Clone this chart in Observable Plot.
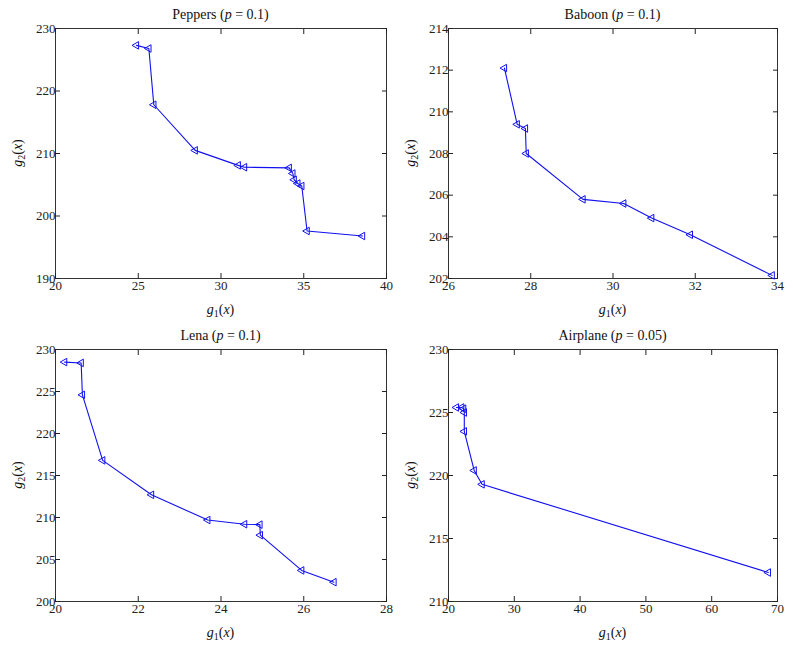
<!DOCTYPE html>
<html>
<head>
<meta charset="utf-8">
<script src="https://cdn.jsdelivr.net/npm/d3@7"></script>
<script src="https://cdn.jsdelivr.net/npm/@observablehq/plot@0.6"></script>
<style>
  html, body { margin: 0; padding: 0; background: #fff; }
  #root { position: relative; width: 793px; height: 648px; overflow: hidden; font-family: "Liberation Serif", "DejaVu Serif", serif; color: #111; }
  #root svg, #root svg text { font-family: "Liberation Serif", "DejaVu Serif", serif !important; }
  .panel { position: absolute; }
  .lab { position: absolute; white-space: nowrap; font-size: 14px; transform: translate(-50%, -50%); line-height: 1; }
  .lab sub { font-size: 10px; vertical-align: -3px; line-height: 0; }
  .rot { transform: translate(-50%, -50%) rotate(-90deg); }
</style>
</head>
<body>
<div id="root"></div>
<script>
// ---- Data ----
const pepG1 = [24.89, 25.64, 25.94, 28.44, 31.04, 31.42, 34.12, 34.34, 34.42, 34.64, 34.88, 35.20, 38.55];
const pepG2 = [227.3, 226.8, 217.8, 210.5, 208.1, 207.8, 207.7, 206.8, 205.8, 205.2, 204.8, 197.6, 196.8];

const babG1 = [27.36, 27.67, 27.87, 27.89, 29.27, 30.26, 30.94, 31.88, 33.87];
const babG2 = [212.1, 209.4, 209.2, 208.0, 205.8, 205.6, 204.9, 204.1, 202.15];

const lenG1 = [20.22, 20.62, 20.65, 21.14, 22.32, 23.68, 24.57, 24.94, 24.95, 25.95, 26.73];
const lenG2 = [228.5, 228.4, 224.6, 216.8, 212.7, 209.7, 209.2, 209.15, 207.9, 203.7, 202.3];

const airG1 = [21.2, 22.0, 22.3, 22.4, 22.4, 23.9, 25.1, 68.6];
const airG2 = [225.4, 225.4, 225.3, 225.0, 223.5, 220.4, 219.3, 212.3];

const pepXTicks = [20, 25, 30, 35, 40];
const pepYTicks = [190, 200, 210, 220, 230];
const babXTicks = [26, 28, 30, 32, 34];
const babYTicks = [202, 204, 206, 208, 210, 212, 214];
const lenXTicks = [20, 22, 24, 26, 28];
const lenYTicks = [200, 205, 210, 215, 220, 225, 230];
const airXTicks = [20, 30, 40, 50, 60, 70];
const airYTicks = [210, 215, 220, 225, 230];

const titles = ["Peppers", "Baboon", "Lena", "Airplane"];
const pValues = ["0.1", "0.1", "0.1", "0.05"];

// ---- Layout ----
const panels = [
  {g1: pepG1, g2: pepG2, xt: pepXTicks, yt: pepYTicks, left: 0,   top: 0,   ml: 55, mr: 10, mt: 28, mb: 42, yl: 18},
  {g1: babG1, g2: babG2, xt: babXTicks, yt: babYTicks, left: 396, top: 0,   ml: 52, mr: 15, mt: 28, mb: 42, yl: 15},
  {g1: lenG1, g2: lenG2, xt: lenXTicks, yt: lenYTicks, left: 0,   top: 320, ml: 55, mr: 10, mt: 29, mb: 39, yl: 18},
  {g1: airG1, g2: airG2, xt: airXTicks, yt: airYTicks, left: 396, top: 320, ml: 52, mr: 15, mt: 29, mb: 39, yl: 15}
];
const W = 396, H = 320;
const lineColor = "#1010f0";
const serif = '"Liberation Serif", "DejaVu Serif", serif';
const root = document.getElementById("root");

panels.forEach((p, i) => {
  const data = p.g1.map((v, k) => ({g1: v, g2: p.g2[k]}));
  const xd = [p.xt[0], p.xt[p.xt.length - 1]];
  const yd = [p.yt[0], p.yt[p.yt.length - 1]];
  const chart = Plot.plot({
    width: W, height: H,
    marginLeft: p.ml, marginRight: p.mr, marginTop: p.mt, marginBottom: p.mb,
    x: {domain: xd, label: null},
    y: {domain: yd, label: null},
    style: {fontFamily: serif, fontSize: "13px", color: "#222", background: "transparent", overflow: "visible"},
    marks: [
      Plot.frame({stroke: "#333", strokeWidth: 1}),
      Plot.axisX(p.xt, {anchor: "bottom", tickSize: -5, tickPadding: 7, label: null, fontFamily: serif, fontSize: 13, tickFormat: d => String(d)}),
      Plot.axisX(p.xt, {anchor: "top", tickSize: -5, label: null, tickFormat: () => ""}),
      Plot.axisY(p.yt, {anchor: "left", tickSize: -5, tickPadding: 5, label: null, fontFamily: serif, fontSize: 13, tickFormat: d => String(d)}),
      Plot.axisY(p.yt, {anchor: "right", tickSize: -5, label: null, tickFormat: () => ""}),
      Plot.line(data, {x: "g1", y: "g2", stroke: lineColor, strokeWidth: 1.1}),
      Plot.dot(data, {x: "g1", y: "g2", symbol: "triangle", rotate: -90, r: 2.8, stroke: lineColor, fill: "none", strokeWidth: 1})
    ]
  });
  const wrap = document.createElement("div");
  wrap.className = "panel";
  wrap.style.left = p.left + "px";
  wrap.style.top = p.top + "px";
  wrap.appendChild(chart);
  root.appendChild(wrap);

  const fx0 = p.left + p.ml, fx1 = p.left + W - p.mr;
  const fy0 = p.top + p.mt, fy1 = p.top + H - p.mb;
  const cx = (fx0 + fx1) / 2, cy = (fy0 + fy1) / 2;

  const t = document.createElement("div");
  t.className = "lab";
  t.style.left = cx + "px";
  t.style.top = (fy0 - 13) + "px";
  t.innerHTML = titles[i] + " (<i>p</i> = " + pValues[i] + ")";
  root.appendChild(t);

  const xl = document.createElement("div");
  xl.className = "lab";
  xl.style.left = cx + "px";
  xl.style.top = (fy1 + 32) + "px";
  xl.innerHTML = "<i>g</i><sub>1</sub>(<i>x</i>)";
  root.appendChild(xl);

  const yl = document.createElement("div");
  yl.className = "lab rot";
  yl.style.left = (p.left + p.yl) + "px";
  yl.style.top = cy + "px";
  yl.innerHTML = "<i>g</i><sub>2</sub>(<i>x</i>)";
  root.appendChild(yl);
});
</script>
</body>
</html>
